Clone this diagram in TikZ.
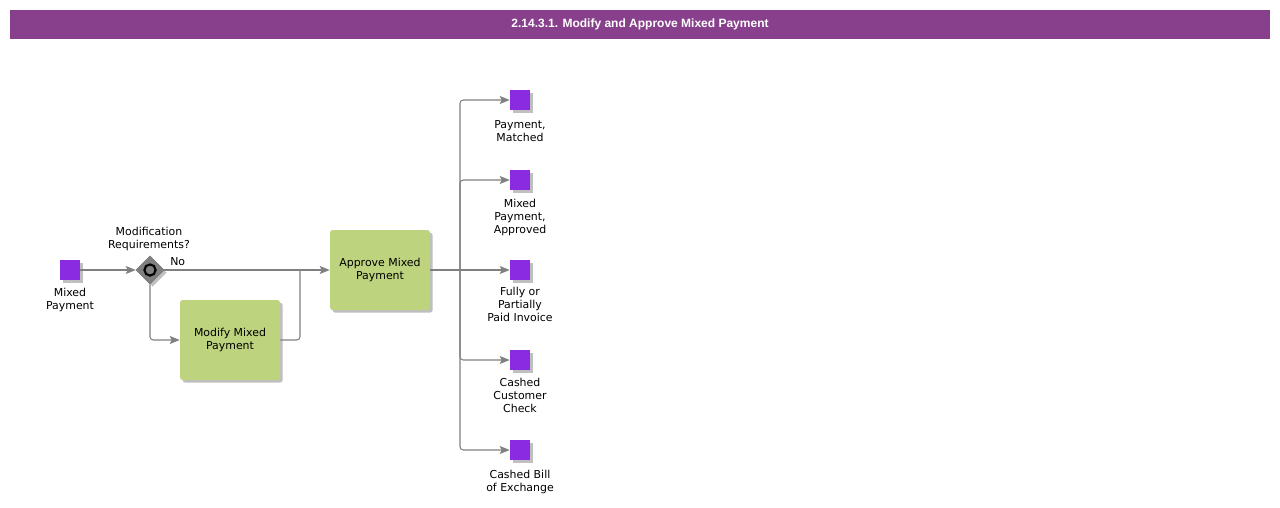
\documentclass[tikz,border=0pt]{standalone}
\usepackage[dvipsnames,svgnames]{xcolor}
\usepackage{fontspec}
\setmainfont{DejaVu Sans}
\newfontfamily\titlefont{Liberation Sans}
\usetikzlibrary{shapes.geometric,arrows.meta,shadows}

\definecolor{barpurple}{RGB}{136,64,140}
\definecolor{datapurple}{RGB}{138,43,226}
\definecolor{taskgreen}{RGB}{189,211,125}
\definecolor{flowgray}{RGB}{128,128,128}

\tikzset{
  shade/.style={drop shadow={shadow xshift=2pt,shadow yshift=-2pt,opacity=0.25,fill=black}},
  data/.style={draw=none,fill=datapurple,minimum size=15pt,inner sep=0pt,shade},
  task/.style={draw=none,fill=taskgreen,rounded corners=2pt,minimum width=75pt,
    minimum height=60pt,align=center,font=\fontsize{8.2}{9.75}\selectfont,shade},
  gate/.style={diamond,draw=black!55,fill=flowgray,minimum size=21pt,inner sep=0pt,shade},
  lbl/.style={align=center,inner sep=0pt,font=\fontsize{8.2}{9.75}\selectfont},
  flow/.style={draw=flowgray,line width=0.8pt,rounded corners=2.5pt,
    -{Stealth[length=7.5pt,width=6pt,inset=1.5pt]}},
  plain/.style={draw=flowgray,line width=0.8pt,rounded corners=2.5pt}
}

\begin{document}
\begin{tikzpicture}[x=0.75pt,y=-0.75pt]
  \useasboundingbox (0,0) rectangle (1280,507);
  \fill[barpurple] (10,10) rectangle (1270,39);
  \node[text=white,font=\titlefont\bfseries\fontsize{9}{11}\selectfont] (title) at (640,24.5)
    {2.14.3.1. Modify and Approve Mixed Payment};

  \node[data] (mixed) at (70,270) {};
  \node[lbl,anchor=north] at (70,288) {Mixed\\Payment};

  \node[gate] (gw) at (150,270) {};
  \draw[black,line width=1.6pt,fill=flowgray] (gw.center) circle (4.2pt);
  \node[lbl] at (149,239) {Modification\\Requirements?};
  \node[lbl,anchor=west] at (170,262) {No};

  \node[task] (modify) at (230,340) {Modify Mixed\\Payment};
  \node[task] (approve) at (380,270) {Approve Mixed\\Payment};

  \node[data] (pm) at (520,100) {};
  \node[data] (mpa) at (520,180) {};
  \node[data] (fpi) at (520,270) {};
  \node[data] (ccc) at (520,360) {};
  \node[data] (cbe) at (520,450) {};
  \node[lbl,anchor=north] at (520,120) {Payment,\\Matched};
  \node[lbl,anchor=north] at (520,199) {Mixed\\Payment,\\Approved};
  \node[lbl,anchor=north] at (520,287) {Fully or\\Partially\\Paid Invoice};
  \node[lbl,anchor=north] at (520,378) {Cashed\\Customer\\Check};
  \node[lbl,anchor=north] at (520,470) {Cashed Bill\\of Exchange};

  \coordinate (merge) at (300,270);
  \coordinate (split) at (460,270);

  \draw[flow] (mixed) -- (gw.west);
  \draw[flow] (gw.east) -- (approve.west);
  \draw[flow] (gw.south) |- (modify.west);
  \draw[plain] (modify.east) -| (merge);
  \draw[plain] (approve.east) -- (split);
  \draw[flow] (split) |- (pm.west);
  \draw[flow] (split) |- (mpa.west);
  \draw[flow] (split) -- (fpi.west);
  \draw[flow] (split) |- (ccc.west);
  \draw[flow] (split) |- (cbe.west);
\end{tikzpicture}
\end{document}
